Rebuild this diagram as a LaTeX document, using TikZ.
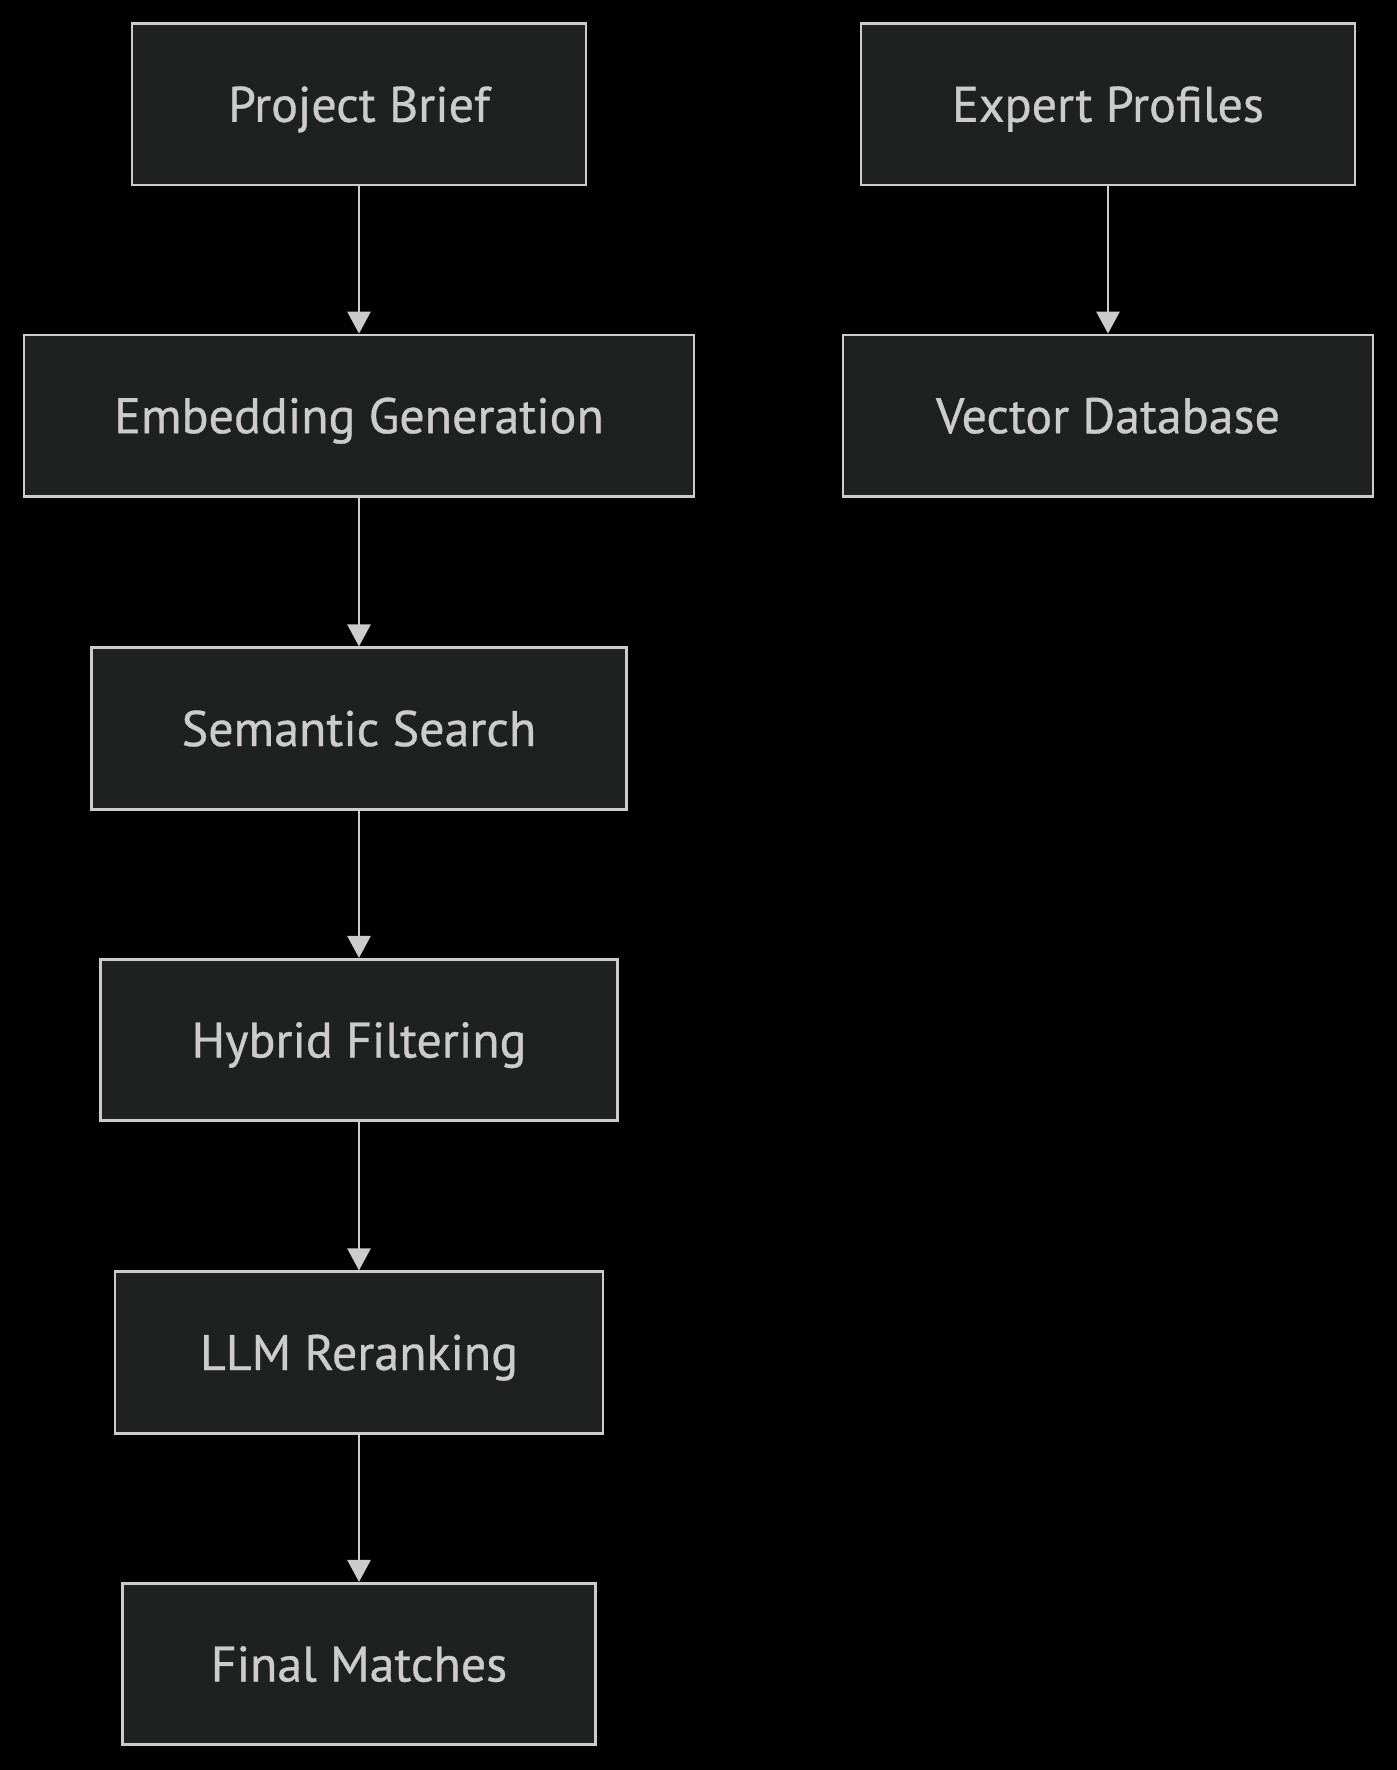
\documentclass[tikz,border=0pt]{standalone}
\usepackage{fontspec}
\setmainfont{PT Sans}
\newfontfamily\lblfont[FakeBold=0.7]{PT Sans}
\usetikzlibrary{arrows.meta}
\definecolor{boxfill}{HTML}{1F2020}
\definecolor{boxline}{HTML}{CCCCCC}
\definecolor{txt}{HTML}{CCCCCC}
\tikzset{
  box/.style={draw=boxline, fill=boxfill, line width=2.6pt, inner sep=0pt,
    minimum height=161.5pt, text=txt, text height=35pt, text depth=0pt,
    font=\lblfont\fontsize{50}{54}\selectfont},
  conn/.style={draw=boxline, line width=2.6pt, -{Triangle[width=23pt,length=22pt]}}
}
\begin{document}
\begin{tikzpicture}[x=1pt,y=-1pt]
\fill[black] (0,0) rectangle (1397,1770);
\useasboundingbox (0,0) rectangle (1397,1770);
\node[box, minimum width=454pt] (pb) at (359,104.3) {Project Brief};
\node[box, minimum width=494pt] (ep) at (1108,104.3) {Expert Profiles};
\node[box, minimum width=670pt] (eg) at (359,415.7) {Embedding Generation};
\node[box, minimum width=530pt] (vd) at (1108,415.7) {Vector Database};
\node[box, minimum width=535pt] (ss) at (359,728.5) {Semantic Search};
\node[box, minimum width=517pt] (hf) at (359,1040) {Hybrid Filtering};
\node[box, minimum width=488pt] (lr) at (359,1352.5) {LLM Reranking};
\node[box, minimum width=473pt] (fm) at (359,1664) {Final Matches};
\draw[conn] (pb) -- (eg);
\draw[conn] (ep) -- (vd);
\draw[conn] (eg) -- (ss);
\draw[conn] (ss) -- (hf);
\draw[conn] (hf) -- (lr);
\draw[conn] (lr) -- (fm);
\end{tikzpicture}
\end{document}
